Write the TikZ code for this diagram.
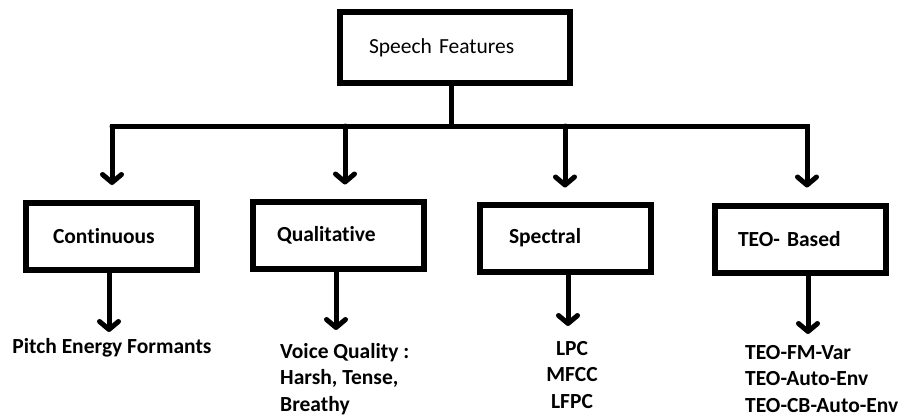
\documentclass[tikz,border=0pt]{standalone}
\usepackage{fontspec}
\setmainfont[Ligatures={NoCommon}]{Carlito}
\usetikzlibrary{arrows.meta}
\begin{document}
\begin{tikzpicture}[x=1pt,y=-1pt,
  topbox/.style={draw, line width=6pt, minimum width=230pt, minimum height=71pt,
    inner xsep=29pt, text width=172pt, align=left, font=\fontsize{21.5}{25}\selectfont},
  catbox/.style={draw, line width=6pt, minimum width=171pt, minimum height=67pt,
    align=left, font=\fontsize{21.5}{25}\selectfont\bfseries},
  leaf/.style={inner sep=0pt, font=\fontsize{21.5}{26.5}\selectfont\bfseries},
  conn/.style={line width=5pt},
  tip/.style={-{Straight Barb[length=8pt,width=19pt,line cap=round,line join=round]}, line cap=round}
]
\useasboundingbox (0,0) rectangle (906,418);
\node[topbox] (top) at (455,47.5) {Speech Features};
\node[catbox, inner xsep=27pt, text width=117pt] (c1) at (111.5,236.5) {Continuous};
\node[catbox, inner xsep=24pt, text width=123pt] (c2) at (338.5,235) {Qualitative};
\node[catbox, inner xsep=29pt, text width=113pt] (c3) at (565.5,238) {Spectral};
\node[catbox, inner xsep=23pt, text width=125pt] (c4) at (800.5,239) {TEO- Based};

\node[leaf, anchor=base] (l1) at (112,353) {Pitch Energy Formants};
\node[leaf, anchor=base west, align=left] (l2) at (280,411) {Voice Quality :\\Harsh, Tense,\\Breathy};
\node[leaf, anchor=base, align=center] (l3) at (572,408) {LPC\\MFCC\\LFPC};
\node[leaf, anchor=base west, align=left] (l4) at (745,412) {TEO-FM-Var\\TEO-Auto-Env\\TEO-CB-Auto-Env};

\coordinate (b0) at (451,126);
\coordinate (b1) at (112,126);
\coordinate (b2) at (345,126);
\coordinate (b3) at (565,126);
\coordinate (b4) at (807,126);
\coordinate (t1) at (109,332);
\coordinate (t2) at (336,330);
\coordinate (t3) at (568,326);
\coordinate (t4) at (808,334);

\draw[conn] (b0 |- top.south) -- (b0);
\draw[conn, tip, line join=miter] (b4) -- (b1) -- (b1 |- c1.north) [shorten >=15pt];
\draw[conn, tip, line join=miter] (b1) -- (b4) -- (b4 |- c4.north) [shorten >=15pt];
\draw[conn, tip, shorten >=14pt] (b2) -- (b2 |- c2.north);
\draw[conn, tip, shorten >=14pt] (b3) -- (b3 |- c3.north);

\draw[conn, tip] (t1 |- c1.south) -- (t1);
\draw[conn, tip] (t2 |- c2.south) -- (t2);
\draw[conn, tip] (t3 |- c3.south) -- (t3);
\draw[conn, tip] (t4 |- c4.south) -- (t4);
\end{tikzpicture}
\end{document}
